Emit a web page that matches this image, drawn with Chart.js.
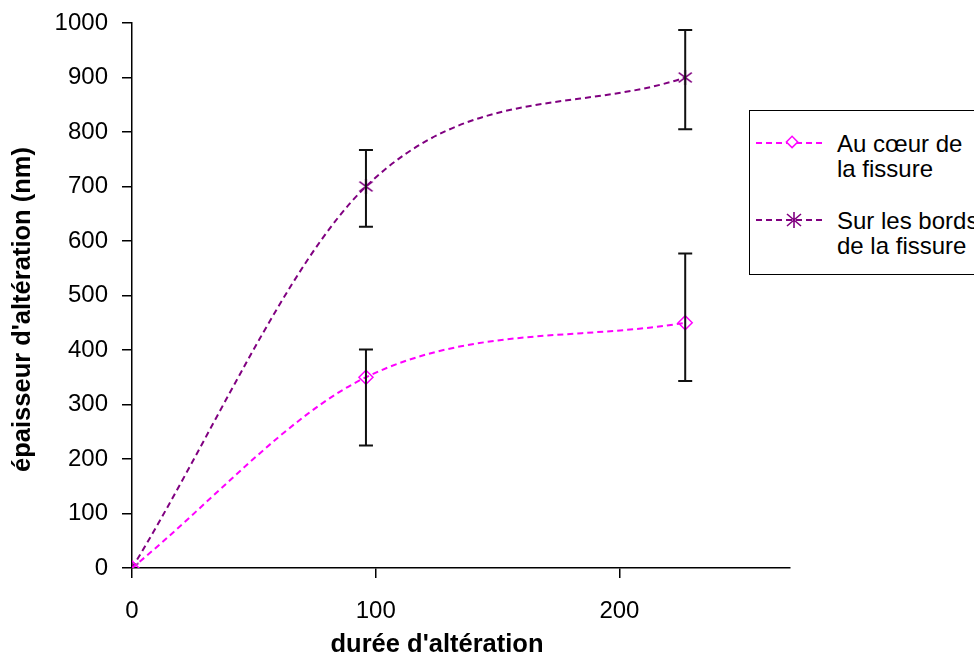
<!DOCTYPE html>
<html>
<head>
<meta charset="utf-8">
<script src="https://cdn.jsdelivr.net/npm/chart.js@4.4.1/dist/chart.umd.min.js"></script>
<style>
  html, body { margin: 0; padding: 0; background: #fff; overflow: hidden; }
  #wrap { position: relative; width: 974px; height: 655px; }
  #legend {
    position: absolute; left: 749px; top: 110px; width: 260px; height: 165px;
    border: 1.5px solid #000; background: #fff; box-sizing: border-box;
    font-family: "Liberation Sans", Arial, sans-serif; font-size: 24px; color: #000;
  }
  .item { position: absolute; left: 0; }
  .item svg { position: absolute; left: 6px; }
  .item .txt { position: absolute; left: 87px; line-height: 25px; white-space: nowrap; }
</style>
</head>
<body>
<div id="wrap">
  <canvas id="c" width="974" height="655"></canvas>
  <div id="legend"></div>
</div>
<script>
// ---- data ----
const seriesNames = [["Au cœur de", "la fissure"], ["Sur les bords", "de la fissure"]];
const durations = [0, 96, 227];
const auCoeur = [0, 350, 450];
const surBords = [0, 700, 900];
const auCoeurErrLow = [null, 225, 343];
const auCoeurErrHigh = [null, 401, 577];
const surBordsErrLow = [null, 626, 805];
const surBordsErrHigh = [null, 767, 987];
const xTicks = [0, 100, 200];
const yTicks = [0, 100, 200, 300, 400, 500, 600, 700, 800, 900, 1000];

const PINK = '#ff00ff';
const PURPLE = '#800080';

// asterisk marker (X + vertical bar)
function makeAsterisk(size, color) {
  const cv = document.createElement('canvas');
  cv.width = size; cv.height = size;
  const g = cv.getContext('2d');
  g.strokeStyle = color; g.lineWidth = 1.6;
  const m = size / 2, r = size / 2 - 1;
  g.beginPath();
  g.moveTo(m, m - r); g.lineTo(m, m + r);
  g.moveTo(m - r * 0.87, m - r * 0.87 * 0.75); g.lineTo(m + r * 0.87, m + r * 0.87 * 0.75);
  g.moveTo(m - r * 0.87, m + r * 0.87 * 0.75); g.lineTo(m + r * 0.87, m - r * 0.87 * 0.75);
  g.stroke();
  return cv;
}
const asterisk = makeAsterisk(17, PURPLE);

const errorSets = [
  { low: auCoeurErrLow, high: auCoeurErrHigh },
  { low: surBordsErrLow, high: surBordsErrHigh }
];

const errorBarPlugin = {
  id: 'errorBars',
  afterDatasetsDraw(chart) {
    const { ctx, scales: { x, y } } = chart;
    ctx.save();
    ctx.strokeStyle = '#111';
    ctx.lineWidth = 2;
    errorSets.forEach(es => {
      durations.forEach((d, i) => {
        if (es.low[i] == null) return;
        const px = x.getPixelForValue(d);
        const yl = y.getPixelForValue(es.low[i]);
        const yh = y.getPixelForValue(es.high[i]);
        ctx.beginPath();
        ctx.moveTo(px, yl); ctx.lineTo(px, yh);
        ctx.moveTo(px - 7, yl); ctx.lineTo(px + 7, yl);
        ctx.moveTo(px - 7, yh); ctx.lineTo(px + 7, yh);
        ctx.stroke();
      });
    });
    ctx.restore();
  }
};

// shift axis titles slightly, as in the original (Excel) layout
const titleShiftPlugin = {
  id: 'titleShift',
  afterLayout(chart) {
    const shifts = { x: [-24, 0], y: [0, 14] };
    Object.keys(shifts).forEach(id => {
      const s = chart.scales[id];
      if (!s || s._titlePatched) return;
      const orig = s.drawTitle.bind(s);
      s.drawTitle = function () {
        const ctx = this.ctx;
        ctx.save();
        ctx.translate(shifts[id][0], shifts[id][1]);
        orig();
        ctx.restore();
      };
      s._titlePatched = true;
    });
  }
};

const toPts = arr => durations.map((d, i) => ({ x: d, y: arr[i] }));

new Chart(document.getElementById('c'), {
  type: 'line',
  data: {
    datasets: [
      {
        label: seriesNames[0].join(' '),
        data: toPts(auCoeur),
        borderColor: PINK, backgroundColor: 'rgba(0,0,0,0)',
        borderWidth: 2, borderDash: [6, 4], cubicInterpolationMode: 'monotone',
        pointStyle: 'rectRot', pointRadius: 7, pointBorderColor: PINK,
        pointBackgroundColor: 'rgba(255,255,255,0)', pointBorderWidth: 1.5
      },
      {
        label: seriesNames[1].join(' '),
        data: toPts(surBords),
        borderColor: PURPLE, backgroundColor: 'rgba(0,0,0,0)',
        borderWidth: 2, borderDash: [6, 4], cubicInterpolationMode: 'monotone',
        pointStyle: asterisk, pointRadius: 8
      }
    ]
  },
  options: {
    responsive: false,
    animation: false,
    devicePixelRatio: 1,
    layout: { padding: { top: 23, right: 184, left: 0, bottom: 0 } },
    plugins: { legend: { display: false }, tooltip: { enabled: false } },
    scales: {
      x: {
        type: 'linear', min: 0, max: 270,
        afterFit(s) { s.height = 87; s.paddingLeft = 0; s.paddingRight = 0; },
        afterBuildTicks(s) { s.ticks = xTicks.map(v => ({ value: v })); },
        ticks: { color: '#000', padding: 19, font: { family: 'Liberation Sans', size: 24 }, maxRotation: 0,
                 callback: v => String(v) },
        grid: { display: true, drawOnChartArea: false, drawTicks: true, tickLength: 10, color: '#000', lineWidth: 1.5 },
        border: { display: true, color: '#000', width: 1.5 },
        title: { display: true, text: "durée d'altération", color: '#000',
                 font: { family: 'Liberation Sans', size: 25.5, weight: 'bold' }, padding: { top: 0, bottom: -5 } }
      },
      y: {
        type: 'linear', min: 0, max: 1000,
        afterFit(s) { s.width = 132; s.paddingTop = 0; s.paddingBottom = 0; },
        afterBuildTicks(s) { s.ticks = yTicks.map(v => ({ value: v })); },
        ticks: { color: '#000', padding: 14, font: { family: 'Liberation Sans', size: 24 },
                 callback: v => String(v) },
        grid: { display: true, drawOnChartArea: false, drawTicks: true, tickLength: 10, color: '#000', lineWidth: 1.5 },
        border: { display: true, color: '#000', width: 1.5 },
        title: { display: true, text: "épaisseur d'altération (nm)", color: '#000',
                 font: { family: 'Liberation Sans', size: 25.5, weight: 'bold' }, padding: { top: 8, bottom: 0 } }
      }
    }
  },
  plugins: [errorBarPlugin, titleShiftPlugin]
});

// HTML legend
const legend = document.getElementById('legend');
const markerSvgs = [
  `<svg width="70" height="16" viewBox="0 0 70 16"><line x1="0" y1="8" x2="66" y2="8" stroke="${PINK}" stroke-width="2" stroke-dasharray="6,4"/><rect x="31" y="2.5" width="8" height="8" transform="rotate(45 35 8)" fill="#fff" stroke="${PINK}" stroke-width="1.5"/></svg>`,
  `<svg width="70" height="18" viewBox="0 0 70 18"><line x1="0" y1="9" x2="66" y2="9" stroke="${PURPLE}" stroke-width="2" stroke-dasharray="6,4"/><path d="M38 1 V17 M31 3 L45 15 M31 15 L45 3" stroke="${PURPLE}" stroke-width="1.6" fill="none"/></svg>`
];
const rowTops = [20, 97];
seriesNames.forEach((lines, i) => {
  const it = document.createElement('div');
  it.className = 'item';
  it.style.top = rowTops[i] + 'px';
  it.innerHTML = markerSvgs[i].replace('<svg', `<svg style="top:${i === 0 ? 4 : 3}px"`) +
    `<div class="txt">${lines.join('<br>')}</div>`;
  legend.appendChild(it);
});
</script>
</body>
</html>
